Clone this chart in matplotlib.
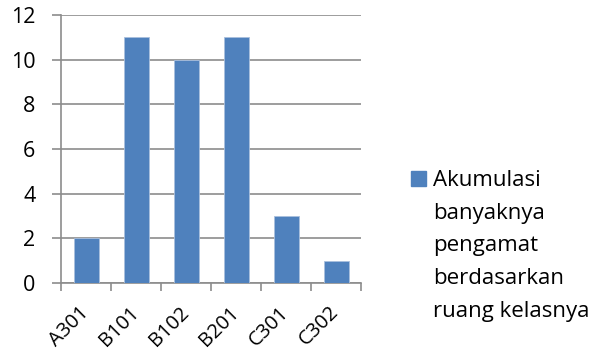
import matplotlib.pyplot as plt
from matplotlib.patches import Rectangle

plt.rcParams['font.family'] = ['Open Sans', 'DejaVu Sans']

# Jumlah pengamat per ruang kelas
ruang = ['A301', 'B101', 'B102', 'B201', 'C301', 'C302']
jumlah = [2, 11, 10, 11, 3, 1]
label_seri = 'Akumulasi\nbanyaknya\npengamat\nberdasarkan\nruang kelasnya'

warna_bar = '#4F81BD'
warna_grid = '#8C8C8C'

W, H = 595, 354
fig = plt.figure(figsize=(W / 100, H / 100), dpi=100)
ax = fig.add_axes([61 / W, 1 - 283 / H, 300 / W, 268 / H])

x = range(len(ruang))
ax.bar(x, jumlah, width=0.5, color=warna_bar, edgecolor='#A9C0DE',
       linewidth=0.6, zorder=3)

ax.set_xlim(-0.5, len(ruang) - 0.5)
ax.set_ylim(0, 12)
ax.set_yticks(range(0, 13, 2))
ax.yaxis.grid(True, color=warna_grid, linewidth=1.2, zorder=0)

# tick kategori berada di batas antar bar, label di tengah bar
ax.set_xticks([i - 0.5 for i in range(len(ruang) + 1)])
ax.set_xticklabels([''] * (len(ruang) + 1))
ax.set_xticks(list(x), minor=True)
ax.set_xticklabels(ruang, minor=True, rotation=45, ha='right', va='center',
                   rotation_mode='anchor', fontsize=14.5)
ax.tick_params(axis='x', which='minor', length=0, pad=19)
ax.tick_params(axis='x', which='major', length=6, color=warna_grid, width=1.2)
ax.tick_params(axis='y', length=6.5, color=warna_grid, width=1.2,
               labelsize=15.5, pad=12)

for side in ['top', 'right']:
    ax.spines[side].set_visible(False)
for side in ['left', 'bottom']:
    ax.spines[side].set_color(warna_grid)
    ax.spines[side].set_linewidth(1.2)

# legenda di sisi kanan: kotak warna + label beberapa baris
fig.patches.append(Rectangle((411 / W, 1 - 186 / H), 15 / W, 15 / H,
                             transform=fig.transFigure, color=warna_bar))
for i, baris in enumerate(label_seri.split('\n')):
    fig.text(433 / W, 1 - (186 + i * 32.75) / H, baris, ha='left',
             va='baseline', fontsize=16)

fig.savefig('out.png', dpi=100)
